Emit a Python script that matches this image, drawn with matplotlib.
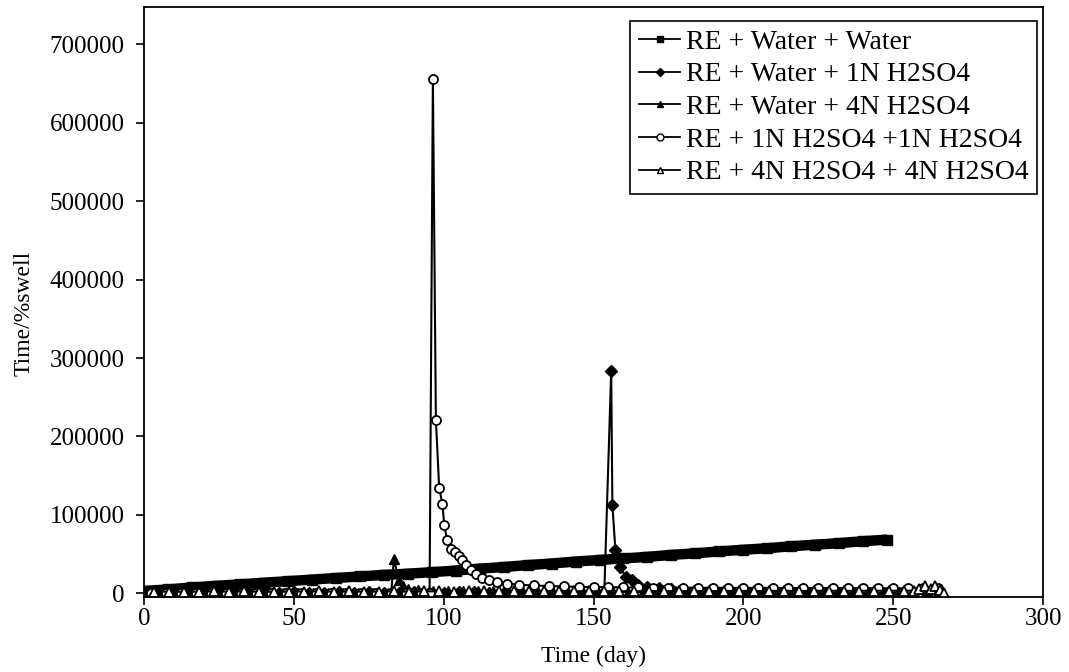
import matplotlib
matplotlib.use('Agg')
import matplotlib.pyplot as plt
from matplotlib.lines import Line2D

plt.rcParams['font.family'] = ['Liberation Serif', 'DejaVu Serif']

# RE + Water + Water
days_ww = [0, 8, 16, 24, 32, 40, 48, 56, 64, 72, 80, 88, 96, 104, 112, 120,
           128, 136, 144, 152, 160, 168, 176, 184, 192, 200, 208, 216, 224, 232, 240, 248]
vals_ww = [3000, 5000, 7500, 9500, 11500, 13500, 15500, 17500, 19500, 21500, 23500, 25000,
           27000, 29000, 31500, 33500, 36000, 38000, 40500, 42500, 44500, 46500, 49000, 51000,
           53500, 55500, 57500, 60000, 62000, 64000, 66500, 68500]

# RE + Water + 1N H2SO4
days_w1 = [0, 5, 10, 15, 20, 25, 30, 35, 40, 45, 50, 55, 60, 65, 70, 75, 80, 85, 90, 95,
           100, 105, 110, 115, 120, 125, 130, 135, 140, 145, 150, 153.6,
           155.9, 156.3, 157.3, 159, 160.7, 162.9, 165, 168, 172, 176, 180, 185, 190, 195,
           200, 205, 210, 215, 220, 225, 230, 235, 240, 245, 250, 255, 260, 265]
vals_w1 = [1200, 900, 1100, 800, 1000, 1300, 900, 1100, 1000, 800, 1200, 1000, 900, 1100,
           1000, 1200, 900, 1000, 1100, 900, 1000, 1200, 1100, 900, 1000, 1100, 1200, 1000,
           900, 1100, 1000, 1500,
           283000, 113000, 55000, 33000, 21000, 16500, 11000, 8000, 6500, 6000, 5800, 5600,
           5500, 5400, 5300, 5200, 5200, 5100, 5000, 5000, 4900, 4900, 4800, 4800, 4700,
           4700, 4600, 4500]

# RE + Water + 4N H2SO4
days_w4 = [1.5, 6.5, 11.5, 16.5, 21.5, 26.5, 31.5, 36.5, 41.5, 46.5, 51.5, 56.5, 61.5,
           66.5, 71.5, 76.5, 81.5, 82.5,
           83.4, 85, 86.5, 88, 91.5, 96.5, 101.5, 106.5, 111.5, 116.5, 121.5, 126.5, 131.5,
           136.5, 141.5, 146.5, 151.5, 156.5, 161.5, 166.5, 171.5, 176.5, 181.5, 186.5,
           191.5, 196.5, 201.5, 206.5, 211.5, 216.5, 221.5, 226.5, 231.5, 236.5, 241.5,
           246.5, 251.5, 256.5, 261.5, 265]
vals_w4 = [500, 700, 600, 500, 800, 600, 700, 500, 600, 700, 500, 800, 600, 700, 600, 500,
           700, 800,
           44300, 16600, 9000, 5500, 4000, 3200, 2800, 2600, 2500, 2400, 2400, 2300, 2300,
           2200, 2200, 2100, 2100, 2000, 2000, 2000, 1900, 1900, 1900, 1800, 1800, 1800,
           1700, 1700, 1700, 1700, 1600, 1600, 1600, 1500, 1500, 1500, 1500, 1400, 1400, 1400]

# RE + 1N H2SO4 + 1N H2SO4
days_11 = [2.5, 7.5, 12.5, 17.5, 22.5, 27.5, 32.5, 37.5, 42.5, 47.5, 52.5, 57.5, 62.5,
           67.5, 72.5, 77.5, 82.5, 87.5, 92.5, 95.3,
           96.4, 97.4, 98.5, 99.6, 100.2, 101.2, 102.6, 103.8, 105.1, 106.2, 107.3, 109,
           110.7, 112.9, 115.1, 117.9, 121, 125, 130, 135, 140, 145, 150, 155, 160, 165, 170,
           175, 180, 185, 190, 195, 200, 205, 210, 215, 220, 225, 230, 235, 240, 245, 250,
           255, 260, 265]
vals_11 = [300, 400, 300, 500, 400, 300, 400, 300, 500, 400, 300, 400, 500, 300, 400, 300,
           400, 500, 400, 600,
           656000, 221000, 134800, 113500, 86700, 67600, 57000, 52700, 47200, 42100, 35700,
           29300, 24200, 20000, 17500, 14400, 12500, 11000, 10000, 9300, 8700, 8300, 8000,
           7800, 7600, 7500, 7400, 7300, 7200, 7100, 7000, 7000, 6900, 6900, 6800, 6800,
           6700, 6700, 6600, 6600, 6500, 6500, 6400, 6400, 6300, 6300]

# RE + 4N H2SO4 + 4N H2SO4
days_44 = [3.5, 8.5, 13.5, 18.5, 23.5, 28.5, 33.5, 38.5, 43.5, 48.5, 53.5, 58.5, 63.5,
           68.5, 73.5, 78.5, 83.5, 88.5, 93.5, 98.5, 103.5, 108.5, 113.5, 118.5, 123.5,
           128.5, 133.5, 138.5, 143.5, 148.5, 153.5, 158.5, 163.5, 168.5, 173.5, 178.5,
           183.5, 188.5, 193.5, 198.5, 203.5, 208.5, 213.5, 218.5, 223.5, 228.5, 233.5,
           238.5, 243.5, 248.5, 253.5, 257,
           258.5, 260.5, 262.5, 264, 265.5, 267]
vals_44 = [2000, 2300, 1800, 2200, 2500, 2000, 2400, 2100, 1900, 2300, 2200, 2600, 2000,
           2400, 2100, 2300, 2500, 2200, 2400, 2600, 2300, 2500, 2700, 2400, 2600, 2500, 2800,
           2600, 2700, 2500, 2800, 2700, 2600, 2900, 2800, 2700, 3000, 2800, 2900, 3100, 2900,
           3000, 3200, 3000, 3100, 3300, 3100, 3200, 3300, 3200, 3400, 3300,
           5000, 9000, 6000, 9500, 4000, 500]

labels = ['RE + Water + Water', 'RE + Water + 1N H2SO4', 'RE + Water + 4N H2SO4',
          'RE + 1N H2SO4 +1N H2SO4', 'RE + 4N H2SO4 + 4N H2SO4']
x_ticks = [0, 50, 100, 150, 200, 250, 300]
y_ticks = [0, 100000, 200000, 300000, 400000, 500000, 600000, 700000]

fig = plt.figure(figsize=(10.69, 6.72), dpi=100)
ax = fig.add_axes([0.1347, 0.1116, 0.8410, 0.8780])

ax.plot(days_ww, vals_ww, color='black', lw=7.5, marker='s', ms=7,
        solid_capstyle='butt')
ax.plot(days_w1, vals_w1, color='black', lw=1.5, marker='D', ms=6)
ax.plot(days_w4, vals_w4, color='black', lw=1.5, marker='^', ms=7)
ax.plot(days_11, vals_11, color='black', lw=1.5, marker='o', ms=6.5, mfc='white', mew=1.3)
ax.plot(days_44, vals_44, color='black', lw=1.5, marker='^', ms=7, mfc='white', mew=1.3)

# legend entries drawn as thin line + marker, like the original
handles = [
    Line2D([], [], color='black', lw=1.3, marker='s', ms=5),
    Line2D([], [], color='black', lw=1.3, marker='D', ms=4),
    Line2D([], [], color='black', lw=1.3, marker='^', ms=5),
    Line2D([], [], color='black', lw=1.3, marker='o', ms=5, mfc='white'),
    Line2D([], [], color='black', lw=1.3, marker='^', ms=5, mfc='white'),
]

ax.set_xlim(0, 300)
ax.set_ylim(-4700, 747600)
ax.set_xticks(x_ticks)
ax.set_yticks(y_ticks)
ax.tick_params(direction='out', length=6, width=1.2, labelsize=18)
ax.tick_params(axis='x', pad=2)
ax.tick_params(axis='y', pad=8)
for s in ax.spines.values():
    s.set_linewidth(1.3)

ax.set_xlabel('Time (day)', fontsize=17, labelpad=11)
ax.set_ylabel('Time/%swell', fontsize=17)
ax.yaxis.set_label_coords(-0.122, 0.48)

leg = ax.legend(handles, labels, loc='upper right', bbox_to_anchor=(0.9933, 0.9763),
                fontsize=20, frameon=True, fancybox=False, edgecolor='black',
                framealpha=1, handlelength=1.5, handletextpad=0.2, labelspacing=0.26,
                borderpad=0.3, borderaxespad=0)
leg.get_frame().set_linewidth(1.2)

fig.savefig('out.png', dpi=100)
